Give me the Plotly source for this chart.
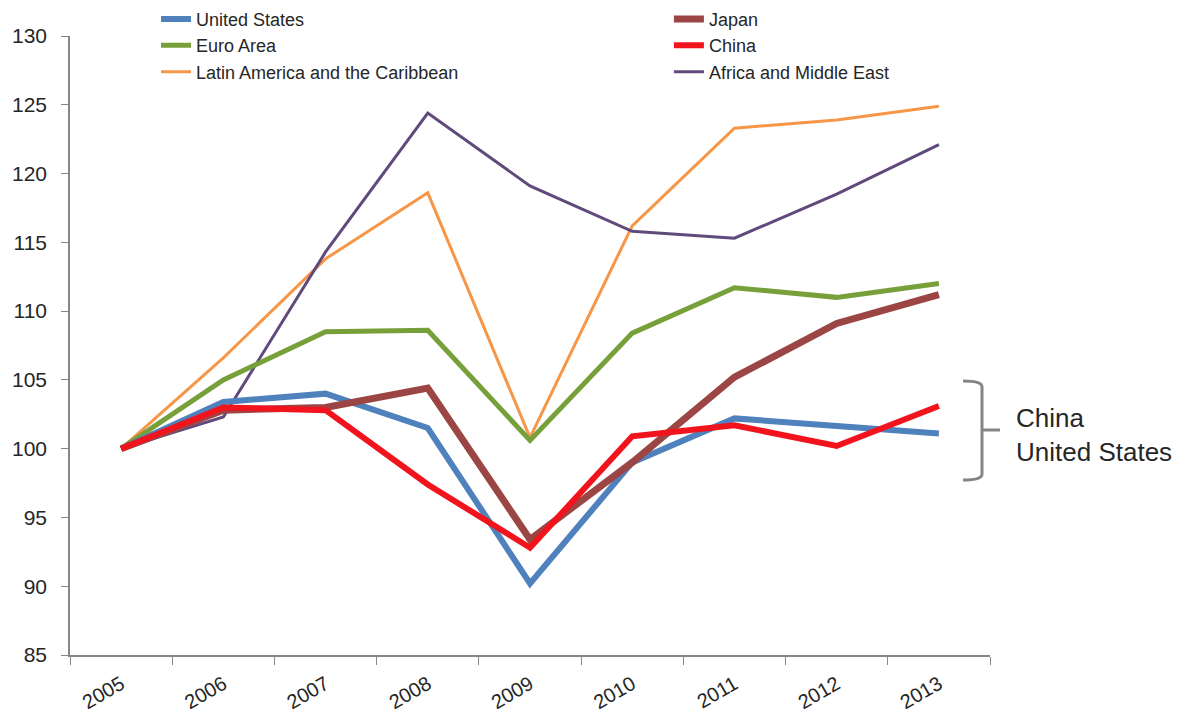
import plotly.graph_objects as go

years = ["2005", "2006", "2007", "2008", "2009", "2010", "2011", "2012", "2013"]
united_states = [100, 103.4, 104.0, 101.5, 90.2, 99.0, 102.2, 101.6, 101.1]
japan = [100, 102.8, 103.0, 104.4, 93.4, 99.0, 105.2, 109.1, 111.2]
euro_area = [100, 105.0, 108.5, 108.6, 100.6, 108.4, 111.7, 111.0, 112.0]
china = [100, 103.0, 102.8, 97.4, 92.8, 100.9, 101.7, 100.2, 103.1]
latin_america = [100, 106.6, 113.8, 118.6, 100.8, 116.2, 123.3, 123.9, 124.9]
africa_me = [100, 102.3, 114.3, 124.4, 119.1, 115.8, 115.3, 118.5, 122.1]

series = [
    ("United States", united_states, "#4F81BD", 6, "legend"),
    ("Euro Area", euro_area, "#77A03B", 5, "legend"),
    ("Latin America and the Caribbean", latin_america, "#F79646", 3, "legend"),
    ("Japan", japan, "#9B4544", 7, "legend2"),
    ("China", china, "#F2141C", 6, "legend2"),
    ("Africa and Middle East", africa_me, "#604A7B", 3, "legend2"),
]

FONT = "Liberation Sans, Arial, sans-serif"
AXIS = "#868686"
TEXT = "#262626"

fig = go.Figure()
# draw order: thin lines underneath, thick on top
draw_order = [2, 5, 1, 0, 3, 4]
for i in draw_order:
    name, vals, color, w, leg = series[i]
    fig.add_trace(go.Scatter(
        x=years, y=vals, name=name, mode="lines",
        line=dict(color=color, width=w),
        legend=leg, legendrank=i,
    ))

# bracket annotation
fig.add_shape(
    type="path", xref="paper", yref="y",
    path="M 0.9707,104.92 Q 0.9913,104.92 0.9913,104.5 L 0.9913,98.14 Q 0.9913,97.72 0.9707,97.72 "
         "M 0.9913,101.36 L 1.0109,101.36",
    line=dict(color="#858585", width=3),
)
fig.add_annotation(
    x=1.026, xref="paper", y=101.0, yref="y",
    text="China<br>United States", showarrow=False,
    xanchor="left", yanchor="middle", align="left",
    font=dict(family=FONT, size=26, color=TEXT),
)

# the page body adds an 8px margin, so the figure is sized to fit the window
fig.update_layout(
    width=1181, height=705,
    margin=dict(l=62, r=199, t=28, b=58, autoexpand=False),
    plot_bgcolor="white", paper_bgcolor="white",
    font=dict(family=FONT, size=18, color=TEXT),
    showlegend=True,
    legend=dict(x=0.0935, y=1.057, xanchor="left", yanchor="top",
                bgcolor="rgba(0,0,0,0)", font=dict(size=18), tracegroupgap=0),
    legend2=dict(x=0.651, y=1.057, xanchor="left", yanchor="top",
                 bgcolor="rgba(0,0,0,0)", font=dict(size=18), tracegroupgap=0),
    xaxis=dict(
        type="category", showgrid=False, showline=True, linecolor=AXIS, linewidth=1.5,
        ticks="outside", tickson="boundaries", ticklen=8, tickcolor=AXIS,
        tickangle=-30, tickfont=dict(size=20, color=TEXT), ticklabelstandoff=8,
        range=[-0.5, 8.5], zeroline=False, automargin=False,
    ),
    yaxis=dict(
        range=[85, 130], dtick=5, tick0=85, showgrid=False, showline=True,
        linecolor=AXIS, linewidth=1.5, ticks="outside", ticklen=7, tickcolor=AXIS,
        tickfont=dict(size=21, color=TEXT), ticklabelstandoff=10,
        zeroline=False, automargin=False,
    ),
)

fig.write_html("out.html")
